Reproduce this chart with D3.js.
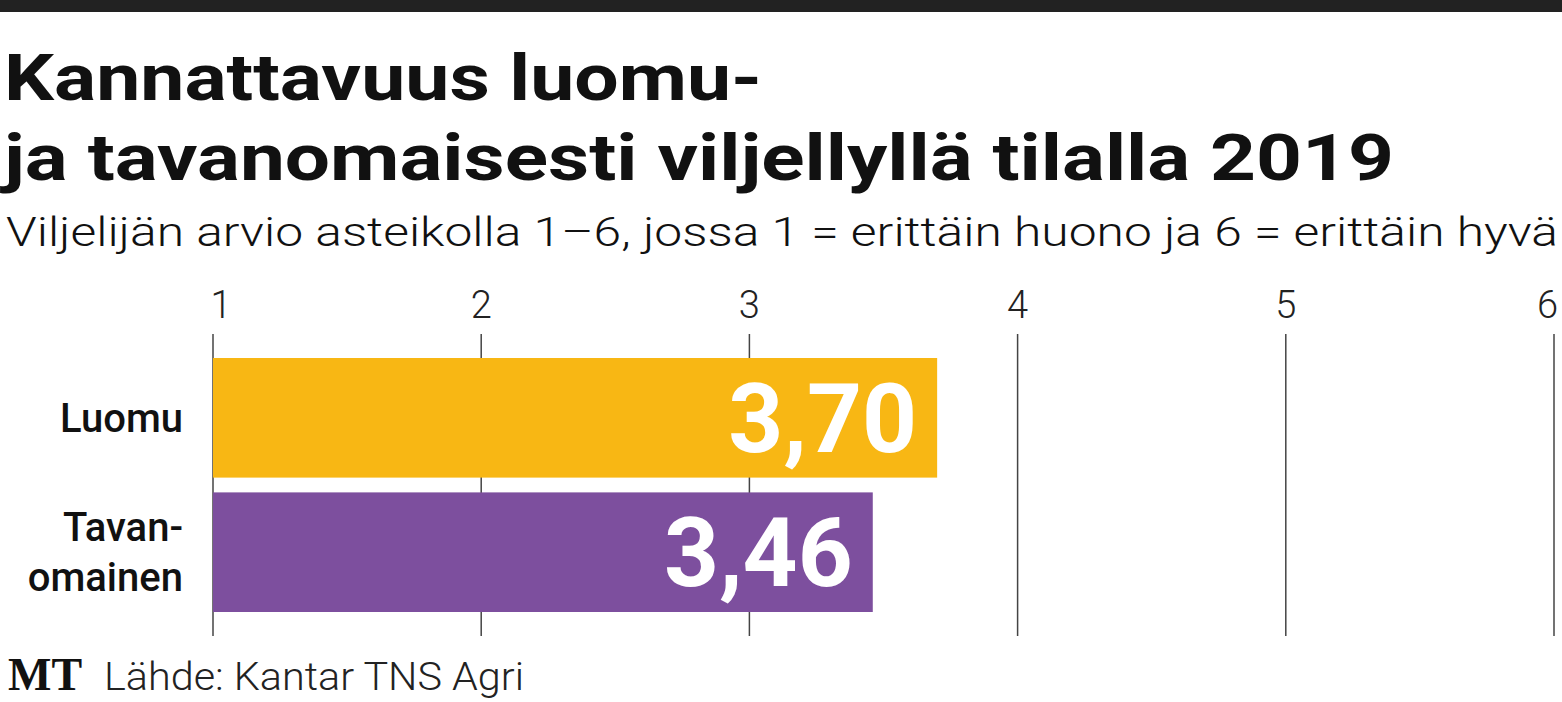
<!DOCTYPE html>
<html><head><meta charset="utf-8">
<script src="https://cdn.jsdelivr.net/npm/d3@7"></script>
<style>body{margin:0;background:#fff}</style></head>
<body><svg id="c" width="1562" height="702"></svg>
<script>
const categories = [["Luomu"], ["Tavan-", "omainen"]];
const values = [3.70, 3.46];
const valueLabels = ["3,70", "3,46"];
const ticks = [1, 2, 3, 4, 5, 6];
const colors = ["#F8B714", "#7D4F9E"];

const svg = d3.select("#c");
const font = "Roboto, 'Open Sans', sans-serif";
function txt(x0,y0,size,weight,s,len,fam){
  const t = svg.append("text").attr("x",x0).attr("y",y0).attr("font-family",fam||font).attr("font-weight",weight).attr("font-size",size).attr("fill","#111").text(s);
  if(len) t.attr("textLength",len).attr("lengthAdjust","spacingAndGlyphs");
  return t;
}
svg.append("rect").attr("x",0).attr("y",0).attr("width",1562).attr("height",12).attr("fill","#222");
txt(4,100,64,"bold","Kannattavuus luomu-",758);
txt(4,180,64,"bold","ja tavanomaisesti viljellyllä tilalla 2019",1390);
txt(6,246,40,300,"Viljelijän arvio asteikolla 1–6, jossa 1 = erittäin huono ja 6 = erittäin hyvä",1552);

const x = d3.scaleLinear().domain([1,6]).range([213,1554]);
const y = d3.scaleBand().domain(d3.range(values.length)).range([358,612]).paddingInner(0.11);

const g = svg.append("g");
g.selectAll("line.grid").data(ticks).join("line").attr("x1",d=>x(d)).attr("x2",d=>x(d)).attr("y1",334).attr("y2",636).attr("stroke","#444").attr("stroke-width",1.5);
g.selectAll("text.tick").data(ticks).join("text").attr("x",d=>x(d)).attr("y",318).attr("text-anchor",(d,i)=>i===ticks.length-1?"end":"middle").attr("dx",(d,i)=>i===0?8:(i===ticks.length-1?4:0)).attr("font-family",font).attr("font-weight",300).attr("font-size",38).attr("fill","#222").text(d=>d);

g.selectAll("rect.bar").data(values).join("rect").attr("x",x(1)).attr("y",(d,i)=>y(i)).attr("width",d=>x(d)-x(1)).attr("height",y.bandwidth()).attr("fill",(d,i)=>colors[i]);
g.selectAll("text.val").data(values).join("text").attr("x",d=>x(d)-20).attr("y",(d,i)=>y(i)+y.bandwidth()/2+34).attr("text-anchor","end").attr("font-family",font).attr("font-weight","bold").attr("font-size",96).attr("fill","#fff").text((d,i)=>valueLabels[i]);

categories.forEach((lines,i)=>{
  const cy = y(i)+y.bandwidth()/2;
  const t = svg.append("text").attr("text-anchor","end").attr("font-family",font).attr("font-weight",500).attr("font-size",40).attr("fill","#111");
  lines.forEach((l,j)=>{
    t.append("tspan").attr("x",183).attr("y",cy+14+(j-(lines.length-1)/2)*50).text(l);
  });
});

txt(8,690,46,"bold","MT",null,"'Liberation Serif', serif");
txt(104,690,38,300,"Lähde: Kantar TNS Agri",420).attr("fill","#222");
</script></body></html>
